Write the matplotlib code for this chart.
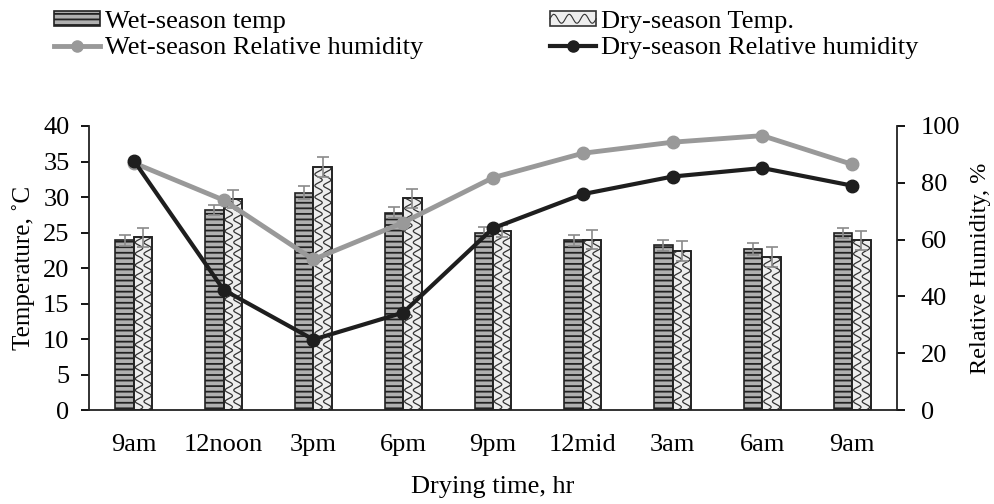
import numpy as np
import matplotlib
matplotlib.use("Agg")
import matplotlib.pyplot as plt
from matplotlib.patches import Rectangle
from matplotlib.lines import Line2D
from matplotlib.legend_handler import HandlerBase

plt.rcParams["font.family"] = ["Liberation Serif", "DejaVu Serif"]
plt.rcParams["hatch.linewidth"] = 1.3

times = ["9am", "12noon", "3pm", "6pm", "9pm", "12mid", "3am", "6am", "9am"]
wet_temp = [23.9, 28.2, 30.6, 27.8, 25.0, 23.9, 23.2, 22.7, 24.9]
wet_temp_err = [0.8, 0.7, 0.9, 0.8, 0.8, 0.8, 0.8, 0.8, 0.7]
dry_temp = [24.3, 29.7, 34.2, 29.8, 25.2, 24.0, 22.4, 21.5, 23.9]
dry_temp_err = [1.3, 1.3, 1.4, 1.3, 0.9, 1.3, 1.4, 1.4, 1.3]
wet_rh = [87.0, 73.9, 53.0, 66.0, 81.8, 90.4, 94.3, 96.6, 86.5]
dry_rh = [87.8, 42.3, 24.8, 34.3, 64.0, 76.0, 82.2, 85.2, 79.0]

x = np.arange(len(times))
w = 0.205


def wave_lines(ax, x0, width, height, clip, lw=0.9):
    # wavy pattern inside a bar, clipped to the bar outline
    y = np.linspace(0, height, max(int(height * 20), 2))
    for off in (0.28, 0.75):
        xs = x0 + width * (off + 0.2 * np.sin(2 * np.pi * y / 1.6))
        ln, = ax.plot(xs, y, color="#333333", lw=lw, zorder=3)
        ln.set_clip_path(clip)


class WaveHandler(HandlerBase):
    def create_artists(self, legend, orig_handle, xdescent, ydescent,
                       width, height, fontsize, trans):
        r = Rectangle((-xdescent, -ydescent), width, height,
                      facecolor="#eeeeee", edgecolor="#333333", lw=1.2,
                      transform=trans)
        xs = np.linspace(-xdescent, width - xdescent, 40)
        ys = -ydescent + height * (0.5 + 0.3 * np.sin(2 * np.pi * xs / (width / 3)))
        ln = Line2D(xs, ys, color="#333333", lw=0.8, transform=trans)
        return [r, ln]


fig = plt.figure(figsize=(9.95, 5.04), dpi=100)
ax = fig.add_axes([0.0894, 0.1865, 0.8121, 0.5635])

wet_bars = ax.bar(x - w / 2, wet_temp, w, color="#b0b0b0", edgecolor="#222222",
                  hatch="---", linewidth=1.2, zorder=2)
dry_bars = ax.bar(x + w / 2, dry_temp, w, color="#eeeeee", edgecolor="#222222",
                  linewidth=1.2, zorder=2)
for b in dry_bars:
    wave_lines(ax, b.get_x(), b.get_width(), b.get_height(), b)
for b in dry_bars:
    ax.add_patch(Rectangle((b.get_x(), 0), b.get_width(), b.get_height(),
                           fill=False, edgecolor="#222222", lw=1.2, zorder=4))

ax.errorbar(x - w / 2, wet_temp, yerr=wet_temp_err, fmt="none", ecolor="#8a8a8a",
            elinewidth=1.2, capsize=4, capthick=1.2, zorder=5)
ax.errorbar(x + w / 2, dry_temp, yerr=dry_temp_err, fmt="none", ecolor="#8a8a8a",
            elinewidth=1.2, capsize=4, capthick=1.2, zorder=5)

ax.set_xlim(-0.5, len(times) - 0.5)
ax.set_ylim(0, 40)
ax.set_yticks(range(0, 41, 5))
ax.set_xticks(x)
ax.set_xticklabels(times)
ax.tick_params(axis="x", length=0, pad=17, labelsize=19)
ax.tick_params(axis="y", direction="out", length=6, width=1.3, labelsize=19, pad=8)
ax.spines["top"].set_visible(False)
ax.spines["right"].set_visible(False)
for s in ("left", "bottom"):
    ax.spines[s].set_linewidth(1.3)
    ax.spines[s].set_color("#222222")
ax.set_ylabel("Temperature, ˚C", fontsize=18, labelpad=6)
ax.set_xlabel("Drying time, hr", fontsize=19, labelpad=15)

ax2 = ax.twinx()
ax2.plot(x, wet_rh, color="#999999", lw=3.5, marker="o", markersize=9, zorder=6)
ax2.plot(x, dry_rh, color="#1e1e1e", lw=3.0, marker="o", markersize=9, zorder=7)
ax2.set_ylim(0, 100)
ax2.set_yticks(range(0, 101, 20))
ax2.tick_params(axis="y", direction="out", length=6, width=1.3, labelsize=19, pad=11)
for s in ("top", "left", "bottom"):
    ax2.spines[s].set_visible(False)
ax2.spines["right"].set_linewidth(1.3)
ax2.spines["right"].set_color("#222222")
ax2.set_ylabel("Relative Humidity, %", fontsize=17.5, labelpad=7)

wet_proxy = Rectangle((0, 0), 1, 1, facecolor="#b0b0b0", edgecolor="#222222",
                      hatch="---", lw=1.2)
dry_proxy = Rectangle((0, 0), 1, 1)
wet_line = Line2D([], [], color="#999999", lw=3.5, marker="o", markersize=8)
dry_line = Line2D([], [], color="#1e1e1e", lw=3.0, marker="o", markersize=8)

fig.legend([wet_proxy, wet_line, dry_proxy, dry_line],
           ["Wet-season temp", "Wet-season Relative humidity",
            "Dry-season Temp.", "Dry-season Relative humidity"],
           handler_map={dry_proxy: WaveHandler()},
           loc="upper left", bbox_to_anchor=(0.03, 1.025), ncol=2,
           frameon=False, fontsize=19, handlelength=1.75, handleheight=0.5,
           handletextpad=0.2, columnspacing=4.8, labelspacing=0.15)

fig.savefig("out.png", dpi=100)
